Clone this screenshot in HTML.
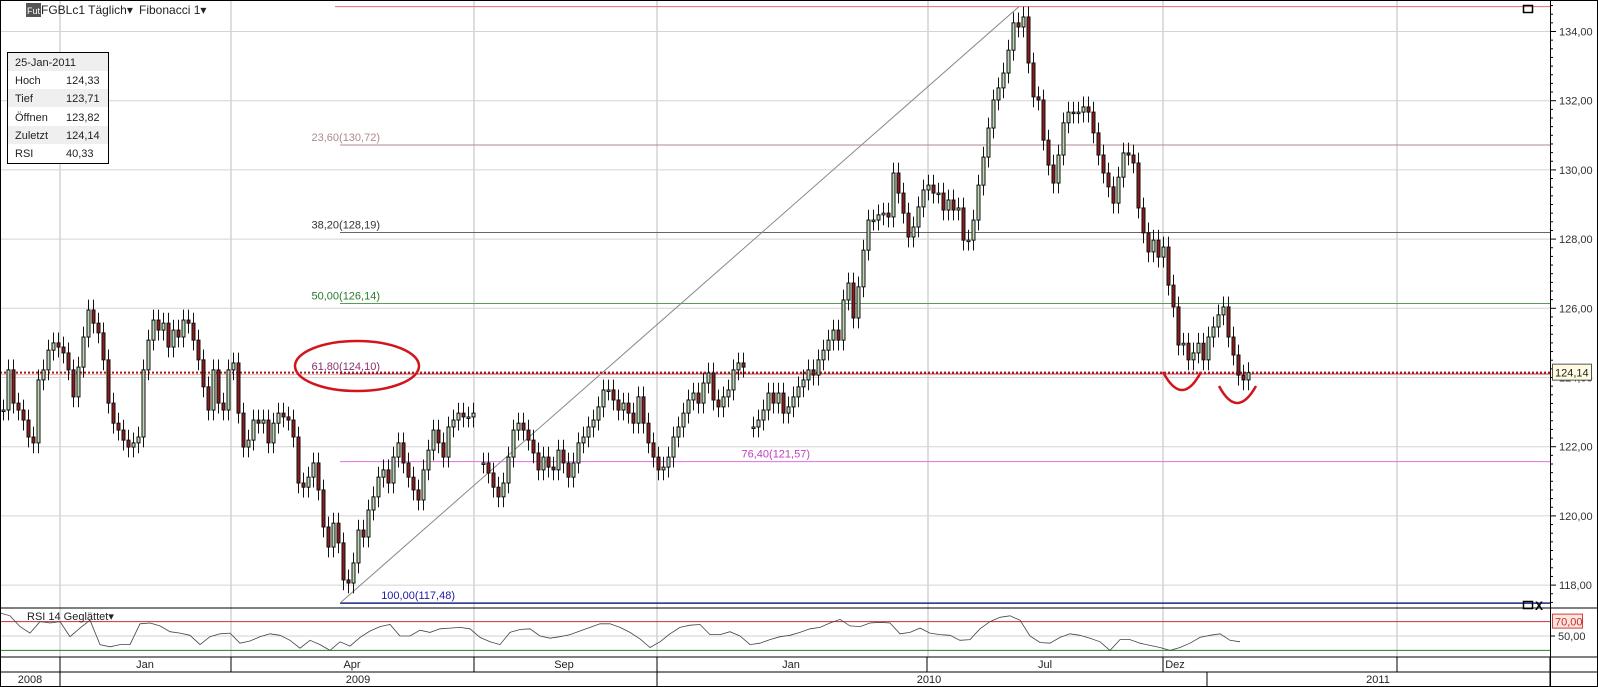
<!DOCTYPE html>
<html><head><meta charset="utf-8"><style>
html,body{margin:0;padding:0;background:#fff;}
svg{display:block;font-family:"Liberation Sans",sans-serif;}
</style></head><body>
<svg id="chart" width="1598" height="687" viewBox="0 0 1598 687" xmlns="http://www.w3.org/2000/svg">
<rect x="0" y="0" width="1598" height="687" fill="#fff"/>
<g id="grid"></g>
<g id="fib"></g>
<g id="candles"></g>
<g id="rsi"></g>
<g id="axis"></g>
<g id="time"></g>
<g fill="none" stroke="#d0161c" stroke-width="2.5">
<ellipse cx="357" cy="366" rx="62" ry="25"/>
<path d="M1163 372 Q1182 408 1201 372"/>
<path d="M1219 386 Q1237 420 1256 386"/>
</g>
<g>
<rect x="26" y="3" width="15" height="14" fill="#555"/>
<text x="27" y="14" font-size="9" fill="#fff">Fut</text>
<text x="41" y="14" font-size="12" fill="#222">FGBLc1 Täglich▾</text>
<text x="139" y="14" font-size="12" fill="#222">Fibonacci 1▾</text>
</g>
<g font-size="11" fill="#222">
<rect x="7.5" y="52.5" width="101" height="111" fill="#fff" stroke="#000"/>
<rect x="8" y="53" width="100" height="18" fill="#efefef"/>
<rect x="8" y="89" width="100" height="18" fill="#efefef"/>
<rect x="8" y="126" width="100" height="18" fill="#efefef"/>
<text x="15" y="66">25-Jan-2011</text>
<text x="15" y="84">Hoch</text><text x="66" y="84">124,33</text>
<text x="15" y="102">Tief</text><text x="66" y="102">123,71</text>
<text x="15" y="121">Öffnen</text><text x="66" y="121">123,82</text>
<text x="15" y="139">Zuletzt</text><text x="66" y="139">124,14</text>
<text x="15" y="157">RSI</text><text x="66" y="157">40,33</text>
</g>
<rect x="1523.5" y="5.5" width="9" height="7" fill="none" stroke="#000" stroke-width="1.5"/>
<rect x="1523.5" y="601.5" width="9" height="7" fill="none" stroke="#000" stroke-width="1.5"/>
<text x="1535" y="610" font-size="12" font-weight="bold" fill="#000">X</text>
<text x="27" y="620" font-size="11" fill="#222">RSI 14 Geglättet▾</text>
<rect x="0.5" y="0.5" width="1597" height="686" fill="none" stroke="#000"/>
</svg>
<script>
const prices = [123.06,124.22,123.26,123.06,122.77,122.28,122.11,123.93,124.22,124.79,125.00,124.88,124.71,124.22,123.44,124.30,125.17,125.95,125.57,125.29,124.51,123.26,122.68,122.48,122.19,121.99,122.11,122.28,124.22,125.08,125.66,125.37,125.57,124.88,125.37,125.17,125.66,125.57,125.08,124.51,123.73,123.06,124.22,123.26,123.06,124.22,124.42,122.97,121.99,122.19,122.77,122.68,122.77,122.11,122.68,122.97,122.86,122.77,122.28,120.95,120.83,121.12,121.53,120.75,119.68,119.10,119.79,119.22,118.15,118.06,118.64,119.59,119.39,120.17,120.55,121.12,121.33,120.95,121.70,122.11,121.53,121.12,120.75,120.46,121.33,121.90,122.48,122.11,121.70,122.57,122.77,122.97,122.86,122.86,122.97,null,121.53,121.24,120.83,120.55,120.95,121.70,122.48,122.68,122.48,122.19,121.82,121.33,121.70,121.41,121.33,121.90,121.53,121.12,121.53,122.11,122.28,122.57,122.77,123.15,123.64,123.64,123.35,123.06,123.26,122.97,122.68,123.44,122.68,122.11,121.70,121.33,121.41,121.70,122.28,122.57,122.97,123.35,123.55,123.26,123.84,124.13,123.35,123.15,123.44,123.64,124.22,124.42,124.30,null,122.57,122.77,123.06,123.55,123.26,123.55,122.97,123.15,123.44,123.73,123.93,124.22,124.07,124.51,124.79,125.08,125.37,125.08,126.24,126.73,125.72,126.62,127.68,128.55,128.55,128.70,128.75,128.64,129.91,129.33,128.75,128.06,128.35,128.93,129.42,129.56,129.33,129.33,128.84,129.13,128.84,128.90,127.97,127.97,128.55,129.56,130.37,131.21,132.02,132.37,132.80,133.46,134.25,134.13,134.42,133.09,132.11,132.02,130.86,130.14,129.62,130.43,131.36,131.67,131.64,131.67,131.82,131.67,131.07,130.43,129.91,129.51,129.04,129.79,130.49,130.43,130.20,128.90,128.18,127.63,127.97,127.48,127.77,126.67,126.04,124.94,124.99,124.51,124.71,124.99,124.51,125.17,125.46,125.81,126.04,125.17,124.65,124.07,123.93,124.14];
const rsiValues = [82,78,63,54,70,68,70,49,61,72,38,35,38,38,67,68,64,56,54,51,38,49,53,54,40,43,49,53,51,44,33,44,38,30,42,36,48,57,63,66,50,50,58,55,60,61,62,60,48,42,38,55,59,60,50,47,49,52,57,62,67,67,62,55,46,34,42,53,62,65,66,52,52,56,50,38,40,45,49,51,55,60,62,68,73,64,63,68,69,68,53,55,61,54,52,51,44,45,60,70,76,78,72,50,41,40,48,53,51,47,42,30,45,45,40,37,34,30,34,40,48,51,53,44,42];
const priceTicks = [118,120,122,124,126,128,130,132,134];
const fibLevels = [134.72,130.72,128.19,126.14,124.10,121.57,117.48];
const fibLabels = ["","23,60(130,72)","38,20(128,19)","50,00(126,14)","61,80(124,10)","76,40(121,57)","100,00(117,48)"];
const monthLabels = ["Jan","Apr","Sep","Jan","Jul","Dez"];
const yearLabels = ["2008","2009","2010","2011"];
const lastPrice = 124.14;

const NS="http://www.w3.org/2000/svg";
const yP = p => 308.3 - (p-126)*34.6;
const xI = i => 2 + i*5;
const yR = r => 636 - (r-50)*0.72;
const xR = i => i*10;
function mk(parent, tag, attrs){const e=document.createElementNS(NS,tag);for(const k in attrs)e.setAttribute(k,attrs[k]);parent.appendChild(e);return e;}

const grid=document.getElementById('grid');
priceTicks.forEach(t=>{const l=mk(grid,'line',{x1:0,x2:1550,y1:yP(t),y2:yP(t),stroke:'#d4d4d4'});

});
[60,231,474,657,928,1163,1397].forEach(x=>{const l=mk(grid,'line',{x1:x,x2:x,y1:0,y2:657,stroke:'#d4d4d4','stroke-width':1.5});

});

const fib=document.getElementById('fib');
const fibColors=['#e07070','#b08a8a','#666','#5a9a5a','#a03050','#e070e0','#1a2a80'];
const fibText=['#c00','#b08a8a','#333','#2a7a2a','#8a3070','#c040c0','#2020a0'];
const labelX=[0,380,380,380,380,810,455];
fibLevels.forEach((lv,i)=>{
 const l=mk(fib,'line',{x1:i==0?335:340,x2:1550,y1:yP(lv),y2:yP(lv),stroke:fibColors[i],'stroke-width':i==6?1.5:1});
 
 
 if(fibLabels[i]){const t=mk(fib,'text',{x:labelX[i],y:yP(lv)-4,'font-size':11,'text-anchor':'end',fill:fibText[i]});t.textContent=fibLabels[i];
 
 }
});
const diag=mk(fib,'line',{x1:340,y1:yP(fibLevels[6]),x2:1019,y2:yP(fibLevels[0]),stroke:'#888'});


const cur=mk(fib,'line',{x1:0,x2:1550,y1:yP(lastPrice),y2:yP(lastPrice),stroke:'#a01818','stroke-width':2,'stroke-dasharray':'2,2'});


mk(fib,'line',{x1:0,x2:1550,y1:yP(lastPrice)+2,y2:yP(lastPrice)+2,stroke:'#f0b0b0'});

const cg=document.getElementById('candles');
let prev=null;
prices.forEach((c,i)=>{
 if(c===null){prev=null;return;}
 const o = prev===null? c : prev;
 const x=xI(i);
 const hi=Math.max(o,c)+0.3, lo=Math.min(o,c)-0.3;
 const up=c>=o;
 const w=mk(cg,'line',{x1:x+1.5,x2:x+1.5,y1:yP(hi),y2:yP(lo),stroke:'#111'});
 
 
 const top=yP(Math.max(o,c)), h=Math.max(1.5,Math.abs(yP(o)-yP(c)));
 const b=mk(cg,'rect',{x:x,y:top,width:3,height:h,fill:up?'#bcd8b4':'#8e1b1b',stroke:'#111','stroke-width':1});
 
 
 prev=c;
});

const rg=document.getElementById('rsi');
mk(rg,'line',{x1:0,x2:1598,y1:608,y2:608,stroke:'#000'});
mk(rg,'line',{x1:0,x2:1550,y1:yR(70),y2:yR(70),stroke:'#c83030'});
mk(rg,'line',{x1:0,x2:1550,y1:yR(50),y2:yR(50),stroke:'#d0d0d0'});
mk(rg,'line',{x1:0,x2:1550,y1:yR(30),y2:yR(30),stroke:'#2a7a2a'});
const pts=rsiValues.map((r,i)=>xR(i)+','+yR(r).toFixed(1)).join(' ');
const rl=mk(rg,'polyline',{points:pts,fill:'none',stroke:'#444','stroke-width':0.8});


mk(rg,'line',{x1:0,x2:1598,y1:657,y2:657,stroke:'#000'});
const b70=mk(rg,'rect',{x:1552.5,y:yR(70)-7.5,width:30,height:14,fill:'#fde4dc',stroke:'#d04040'});


const t70=mk(rg,'text',{x:1555,y:yR(70)+4,'font-size':11,fill:'#c03030'});t70.textContent='70,00';
const t50=mk(rg,'text',{x:1558,y:yR(50)+4,'font-size':11,fill:'#333'});t50.textContent='50,00';
mk(rg,'line',{x1:1550,x2:1555,y1:yR(50),y2:yR(50),stroke:'#000'});

const ax=document.getElementById('axis');
mk(ax,'line',{x1:1550.5,x2:1550.5,y1:0,y2:687,stroke:'#000'});
for(let p=117.5;p<=135;p+=0.25){const y=yP(p);if(y<2||y>606)continue;
 const major=Math.abs(p-Math.round(p/2)*2)<0.01;
 mk(ax,'line',{x1:1550,x2:1550+(major?6:3),y1:y,y2:y,stroke:'#000'});}
priceTicks.forEach(t=>{const e=mk(ax,'text',{x:1559,y:yP(t)+4,'font-size':11,fill:'#333'});e.textContent=t.toFixed(2).replace('.',',');
 
 });
const lb=mk(ax,'rect',{x:1552.5,y:yP(lastPrice)-8.5,width:39,height:16,fill:'#fffbe0',stroke:'#555'});


const lt=mk(ax,'text',{x:1555,y:yP(lastPrice)+4,'font-size':11,fill:'#222'});lt.textContent=lastPrice.toFixed(2).replace('.',',');

const tg=document.getElementById('time');
mk(tg,'line',{x1:0,x2:1598,y1:672,y2:672,stroke:'#000'});
[60,231,474,657,927,1163,1397,1550].forEach(x=>mk(tg,'line',{x1:x,x2:x,y1:657,y2:672,stroke:'#000'}));
[60,657,1207,1550].forEach(x=>mk(tg,'line',{x1:x,x2:x,y1:672,y2:687,stroke:'#000'}));
const mx=[145,352,564,791,1045,1175];
monthLabels.forEach((m,i)=>{const t=mk(tg,'text',{x:mx[i],y:668,'font-size':11,'text-anchor':'middle',fill:'#222'});t.textContent=m;
 
 });
const yx=[30,358,929,1378];
yearLabels.forEach((m,i)=>{const t=mk(tg,'text',{x:yx[i],y:683,'font-size':11,'text-anchor':'middle',fill:'#222'});t.textContent=m;
 
 });
</script>
</body></html>
